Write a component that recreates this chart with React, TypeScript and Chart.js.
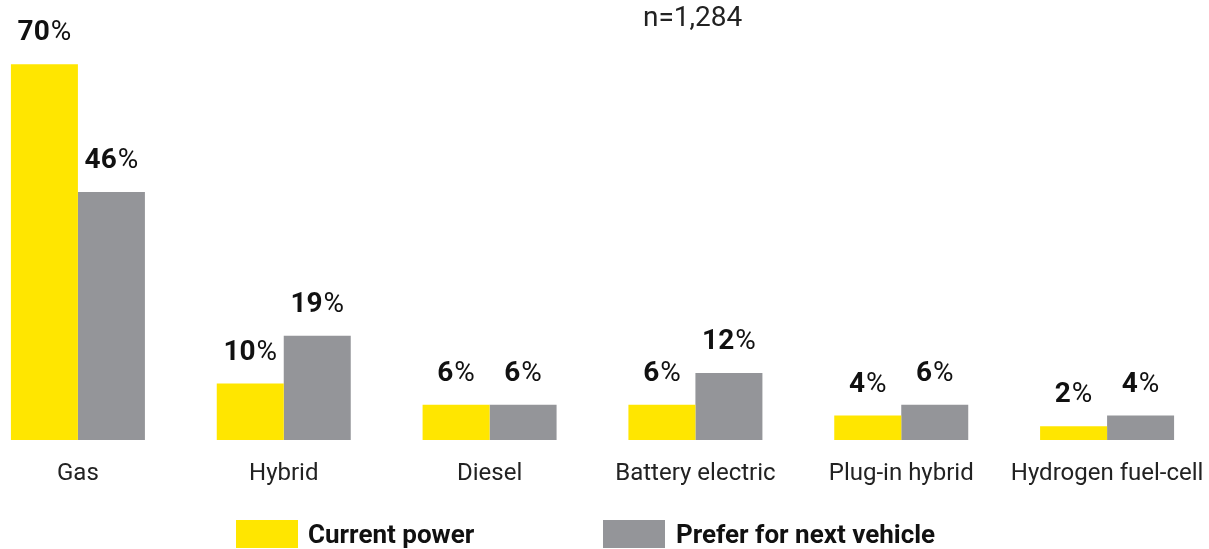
import React, { useEffect, useRef } from "react";
import { Chart, registerables } from "chart.js";

Chart.register(...registerables);

const categories = ["Gas", "Hybrid", "Diesel", "Battery electric", "Plug-in hybrid", "Hydrogen fuel-cell"];
const currentPower = [70, 10, 6, 6, 4, 2];
const preferNext = [46, 19, 6, 12, 6, 4];
const seriesNames = ["Current power", "Prefer for next vehicle"];
const seriesColors = ["#FFE600", "#949599"];
const sampleNote = "n=1,284";

const Y_MIN = -0.6;
const Y_MAX = 80;
const FONT = "Roboto, 'Noto Sans', sans-serif";

const labelPlugin = {
  id: "barValueLabels",
  afterDatasetsDraw(chart: any) {
    const ctx = chart.ctx;
    ctx.save();
    chart.data.datasets.forEach((ds: any, di: number) => {
      const meta = chart.getDatasetMeta(di);
      meta.data.forEach((bar: any, i: number) => {
        const num = String(ds.data[i]);
        const pct = "%";
        ctx.font = `700 28px ${FONT}`;
        const w1 = ctx.measureText(num).width;
        ctx.font = `400 28px ${FONT}`;
        const w2 = ctx.measureText(pct).width;
        const x0 = bar.x - (w1 + w2 + 1) / 2;
        const y = bar.y - 24;
        ctx.fillStyle = "#111111";
        ctx.textBaseline = "alphabetic";
        ctx.textAlign = "left";
        ctx.font = `700 28px ${FONT}`;
        ctx.fillText(num, x0, y);
        ctx.font = `400 28px ${FONT}`;
        ctx.fillText(pct, x0 + w1 + 1, y);
      });
    });
    ctx.restore();
  },
};

export default function App() {
  const canvasRef = useRef<HTMLCanvasElement | null>(null);

  useEffect(() => {
    if (!canvasRef.current) return;
    const chart = new Chart(canvasRef.current, {
      type: "bar",
      data: {
        labels: categories,
        datasets: [
          {
            label: seriesNames[0],
            data: currentPower,
            backgroundColor: seriesColors[0],
            base: Y_MIN,
            categoryPercentage: 0.651,
            barPercentage: 1,
          } as any,
          {
            label: seriesNames[1],
            data: preferNext,
            backgroundColor: seriesColors[1],
            base: Y_MIN,
            categoryPercentage: 0.651,
            barPercentage: 1,
          } as any,
        ],
      },
      options: {
        responsive: false,
        animation: false,
        layout: { padding: { top: 11, bottom: 0, left: 0, right: 0 } },
        plugins: {
          legend: { display: false },
          tooltip: { enabled: false },
          title: { display: false },
        },
        scales: {
          y: {
            display: false,
            min: Y_MIN,
            max: Y_MAX,
          },
          x: {
            grid: { display: false, drawTicks: false },
            border: { display: false },
            ticks: {
              color: "#222222",
              font: { family: FONT, size: 24, weight: "normal" as any, lineHeight: "68px" as any },
              padding: 0,
              maxRotation: 0,
              autoSkip: false,
            },
            afterFit: (scale: any) => {
              scale.height = 109;
            },
          },
        },
      },
      plugins: [labelPlugin],
    });
    return () => chart.destroy();
  }, []);

  const textBase: React.CSSProperties = {
    position: "absolute",
    fontFamily: FONT,
    color: "#111111",
    whiteSpace: "nowrap",
  };

  return (
    <div style={{ position: "fixed", left: 0, top: 0, width: 1209, height: 549, overflow: "hidden", background: "#ffffff" }}>
      <canvas ref={canvasRef} width={1235} height={549} style={{ position: "absolute", left: -25, top: 0, display: "block" }} />
      <div style={{ ...textBase, left: 643, top: 3, fontSize: 28, lineHeight: "28px", fontWeight: 400, color: "#222222" }}>{sampleNote}</div>
      <div style={{ position: "absolute", left: 236, top: 520, width: 62, height: 28, background: seriesColors[0] }} />
      <div style={{ ...textBase, left: 308, top: 520, fontSize: 26, lineHeight: "28px", fontWeight: 700 }}>{seriesNames[0]}</div>
      <div style={{ position: "absolute", left: 603, top: 520, width: 62, height: 28, background: seriesColors[1] }} />
      <div style={{ ...textBase, left: 676, top: 520, fontSize: 26, lineHeight: "28px", fontWeight: 700 }}>{seriesNames[1]}</div>
    </div>
  );
}
